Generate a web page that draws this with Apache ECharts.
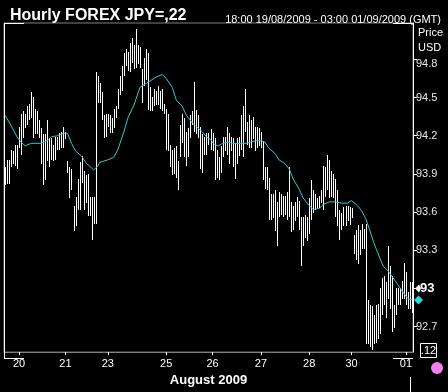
<!DOCTYPE html>
<html><head><meta charset="utf-8">
<script src="https://cdn.jsdelivr.net/npm/echarts@6/dist/echarts.min.js"></script>
<style>html,body{margin:0;padding:0;background:#000;}#c{width:448px;height:392px;}</style>
</head><body><div id="c"></div>
<script>
// Hourly bar highs / lows (USD/JPY), 203 bars
const highs = [93.95,94.01,94.01,94.09,94.08,94.13,94.13,94.27,94.37,94.39,94.37,94.43,94.45,94.54,94.50,94.41,94.39,94.32,94.26,94.21,
94.21,94.32,94.18,94.18,94.13,94.19,94.19,94.22,94.23,94.27,94.23,94.00,93.95,93.94,93.65,93.72,93.86,93.99,94.04,93.92,
93.89,93.90,93.72,93.72,93.72,94.70,94.67,94.61,94.54,94.36,94.37,94.37,94.36,94.34,94.41,94.43,94.57,94.67,94.75,94.85,
94.88,94.86,94.93,94.97,94.91,95.04,94.91,94.90,94.72,94.81,94.88,94.85,94.58,94.50,94.57,94.55,94.59,94.55,94.57,94.45,
94.41,94.37,94.13,94.09,94.10,94.12,94.00,94.28,94.37,94.34,94.23,94.26,94.36,94.39,94.62,94.40,94.36,94.27,94.21,94.19,
94.22,94.22,94.25,94.22,94.18,94.09,94.03,94.12,94.19,94.19,94.27,94.22,94.19,94.18,94.14,94.18,94.19,94.36,94.43,94.57,
94.31,94.36,94.32,94.35,94.27,94.27,94.26,94.23,94.16,93.95,93.95,93.87,93.74,93.74,93.77,93.68,93.76,93.74,93.73,93.73,
93.76,93.95,93.68,93.65,93.68,93.72,93.69,93.56,93.56,93.58,93.56,93.71,93.85,93.77,93.74,93.71,93.73,93.77,93.96,93.95,
94.05,94.01,93.92,93.90,93.86,93.77,93.62,93.59,93.64,93.65,93.65,93.64,93.63,93.42,93.46,93.50,93.46,93.51,93.47,93.51,
92.91,92.87,92.86,92.79,92.87,92.88,93.00,93.08,93.10,93.05,93.33,93.18,93.10,92.87,93.00,93.00,93.00,93.06,93.20,93.13,
92.97,93.05,93.05];
const lows = [93.81,93.82,93.82,93.95,93.98,93.96,93.94,94.10,94.05,94.18,94.26,94.28,94.32,94.34,94.18,94.21,94.21,94.18,93.98,93.81,
93.85,94.00,93.95,94.01,94.00,94.01,94.09,94.09,94.10,94.10,94.17,93.91,93.71,93.77,93.45,93.49,93.62,93.62,93.83,93.62,
93.67,93.57,93.57,93.38,93.51,93.51,94.46,94.46,94.32,94.18,94.19,94.27,94.22,94.22,94.26,94.34,94.41,94.52,94.55,94.67,
94.75,94.71,94.70,94.77,94.72,94.73,94.76,94.73,94.46,94.59,94.64,94.40,94.39,94.39,94.43,94.44,94.44,94.41,94.39,94.37,
94.09,94.08,93.95,93.89,93.90,93.87,93.77,94.03,94.14,94.03,93.96,94.03,94.18,94.28,94.23,94.21,94.18,93.94,93.91,94.05,
94.05,94.13,94.09,94.08,93.85,93.87,93.85,93.91,94.03,94.08,94.05,93.98,94.08,93.95,93.86,93.98,94.04,94.09,94.03,94.23,
94.13,94.10,94.10,94.17,94.08,94.10,94.12,94.10,93.85,93.78,93.77,93.54,93.54,93.55,93.45,93.33,93.56,93.58,93.56,93.58,
93.54,93.56,93.44,93.46,93.53,93.56,93.46,93.18,93.33,93.40,93.37,93.43,93.54,93.59,93.62,93.63,93.63,93.67,93.62,93.72,
93.77,93.71,93.72,93.71,93.56,93.49,93.38,93.46,93.49,93.49,93.53,93.50,93.55,93.27,93.22,93.19,93.26,93.31,93.31,92.56,
92.56,92.54,92.52,92.56,92.57,92.60,92.64,92.79,92.87,92.77,92.92,92.84,92.66,92.69,92.79,92.87,92.87,92.92,92.92,92.87,
92.84,92.84,92.81];
// Moving average (cyan), read at selected bars
const maIdx = [0,3,6,8,10,13,18,21,23,26,29,31,33,35,38,40,42,44,46,47,49,51,54,56,59,61,64,67,70,72,75,78,80,83,85,88,90,93,95,98,
100,102,104,106,108,111,113,117,120,122,125,127,129,131,134,136,139,141,143,146,148,151,153,156,158,161,164,167,170,172,175,177,179,181,183,185,187,188,190,195,197,200,202];
const maVal = [94.36,94.28,94.19,94.15,94.12,94.14,94.14,94.16,94.19,94.20,94.22,94.22,94.14,94.08,94.04,93.99,93.96,93.93,93.96,93.99,
94.00,94.01,94.03,94.09,94.23,94.34,94.44,94.58,94.61,94.63,94.66,94.68,94.65,94.58,94.48,94.43,94.36,94.30,94.27,94.23,
94.19,94.17,94.13,94.12,94.14,94.15,94.14,94.14,94.14,94.15,94.16,94.16,94.15,94.10,94.06,94.01,93.98,93.94,93.86,93.78,
93.71,93.65,93.62,93.63,93.66,93.68,93.68,93.67,93.67,93.69,93.65,93.61,93.55,93.46,93.36,93.28,93.20,93.17,93.14,93.03,92.98,92.92,92.91];
const dayLabelIdx = [7,30,51,80,103,127,151,172,199];
const dayLabels = ['20','21','23','25','26','27','28','30','01'];
const yTickValues = [92.7,93.0,93.3,93.6,93.9,94.2,94.5,94.8];
const yLabelValues = [92.7,93.3,93.6,93.9,94.2,94.5,94.8];
const lastPrice = 93.0;
const lastMA = 92.91;
const monthStartIdx = 201;

const categories = highs.map((_, i) => String(i));
const G = {left: 4, top: 23, right: 35, bottom: 34};
const W = 448, H = 392;
const FONT = 'Liberation Sans, Arial, sans-serif';

const chart = echarts.init(document.getElementById('c'), null, {renderer: 'canvas'});
chart.setOption({
  backgroundColor: '#000',
  animation: false,
  title: [
    {text: 'Hourly FOREX JPY=,22', left: 5, top: 3, textStyle: {color: '#fff', fontSize: 16, fontWeight: 'bold', fontFamily: FONT}},
    {text: '18:00 19/08/2009 - 03:00 01/09/2009 (GMT)', right: 2, top: 9, textStyle: {color: '#fff', fontSize: 11, fontWeight: 'normal', fontFamily: FONT}}
  ],
  grid: {left: G.left, top: G.top, right: G.right, bottom: G.bottom, show: true, borderColor: '#808080', borderWidth: 1, backgroundColor: 'transparent'},
  xAxis: {
    type: 'category', data: categories, boundaryGap: true,
    axisLine: {show: true, lineStyle: {color: '#808080', width: 1}},
    axisTick: {show: true, length: 3, interval: (i) => dayLabelIdx.includes(i), lineStyle: {color: '#fff'}, alignWithLabel: true},
    axisLabel: {interval: (i) => dayLabelIdx.includes(i), formatter: (v, i) => dayLabels[dayLabelIdx.indexOf(Number(v))] || '',
      color: '#fff', fontSize: 11, fontFamily: FONT, margin: 6},
    name: 'August 2009', nameLocation: 'middle', nameGap: 21,
    nameTextStyle: {color: '#fff', fontSize: 13, fontWeight: 'bold', fontFamily: FONT},
    splitLine: {show: false}
  },
  yAxis: {
    type: 'value', position: 'right', min: 92.5, max: 95.085, scale: true,
    axisLine: {show: true, lineStyle: {color: '#fff', width: 1}},
    axisTick: {show: true, length: 4, customValues: yTickValues, lineStyle: {color: '#fff'}},
    axisLabel: {customValues: yLabelValues,
      formatter: (v) => (Math.abs(v - 94.8) < 1e-6 ? '{low|' + v.toFixed(1) + '}' : v.toFixed(1)),
      rich: {low: {padding: [10, 0, 0, 0], color: '#e8e8e8', fontSize: 11, fontFamily: FONT}},
      color: '#e8e8e8', fontSize: 11, fontFamily: FONT, margin: 3},
    splitLine: {show: false}
  },
  series: [
    {
      type: 'custom', name: 'bars',
      data: highs.map((h, i) => [i, h, lows[i]]),
      encode: {x: 0, y: [1, 2]},
      renderItem: (params, api) => {
        const p1 = api.coord([api.value(0), api.value(1)]);
        const p2 = api.coord([api.value(0), api.value(2)]);
        const x = Math.round(p1[0]) + 0.5;
        return {type: 'line', shape: {x1: x, y1: Math.round(p1[1]), x2: x, y2: Math.round(p2[1])}, style: {stroke: '#fff', lineWidth: 1}};
      },
      z: 2
    },
    {
      type: 'line', name: 'MA',
      data: maIdx.map((i, k) => [i, maVal[k]]),
      showSymbol: false, smooth: false,
      lineStyle: {color: '#3cc8c8', width: 1},
      z: 3
    }
  ]
});

const gx0 = G.left, gx1 = W - G.right, gy0 = G.top, gy1 = H - G.bottom;
const yLast = chart.convertToPixel({yAxisIndex: 0}, lastPrice);
const yMA = chart.convertToPixel({yAxisIndex: 0}, lastMA);
const xMonth = Math.round(chart.convertToPixel({xAxisIndex: 0}, monthStartIdx)) + 0.5;
const wl = {stroke: '#fff', lineWidth: 1};
chart.setOption({
  graphic: [
    {type: 'line', shape: {x1: gx0 + 0.5, y1: gy0, x2: gx0 + 0.5, y2: gy1}, style: wl, z: 10},
    {type: 'line', shape: {x1: gx0, y1: gy0 + 0.5, x2: gx0 + 20, y2: gy0 + 0.5}, style: wl, z: 10},
    {type: 'line', shape: {x1: gx1 - 20, y1: gy0 + 0.5, x2: gx1, y2: gy0 + 0.5}, style: wl, z: 10},
    {type: 'line', shape: {x1: gx0, y1: gy1 + 0.5, x2: gx0 + 20, y2: gy1 + 0.5}, style: wl, z: 10},
    {type: 'line', shape: {x1: gx1 - 20, y1: gy1 + 0.5, x2: gx1, y2: gy1 + 0.5}, style: wl, z: 10},
    {type: 'line', shape: {x1: xMonth, y1: gy1 + 19, x2: xMonth, y2: H}, style: wl, z: 10},
    {type: 'text', left: 418, top: 27, style: {text: 'Price', fill: '#fff', font: '11px ' + FONT}},
    {type: 'text', left: 418, top: 42, style: {text: 'USD', fill: '#fff', font: '11px ' + FONT}},
    {type: 'polygon', shape: {points: [[415, yLast], [419, yLast - 4], [421, yLast], [419, yLast + 4]]}, style: {fill: '#fff'}},
    {type: 'text', x: 420, y: yLast, style: {text: '93', fill: '#fff', font: 'bold 13px ' + FONT, verticalAlign: 'middle'}},
    {type: 'polygon', shape: {points: [[414, yMA], [418.5, yMA - 4.5], [423, yMA], [418.5, yMA + 4.5]]}, style: {fill: '#22dddd'}},
    {type: 'rect', shape: {x: 420.5, y: 343.5, width: 16, height: 14}, style: {fill: 'none', stroke: '#fff', lineWidth: 1}},
    {type: 'text', x: 428.5, y: 351, style: {text: '.12', fill: '#fff', font: '11px ' + FONT, align: 'center', verticalAlign: 'middle'}},
    {type: 'circle', shape: {cx: 437, cy: 368, r: 6}, style: {fill: '#f07ff0'}}
  ]
});
</script></body></html>
